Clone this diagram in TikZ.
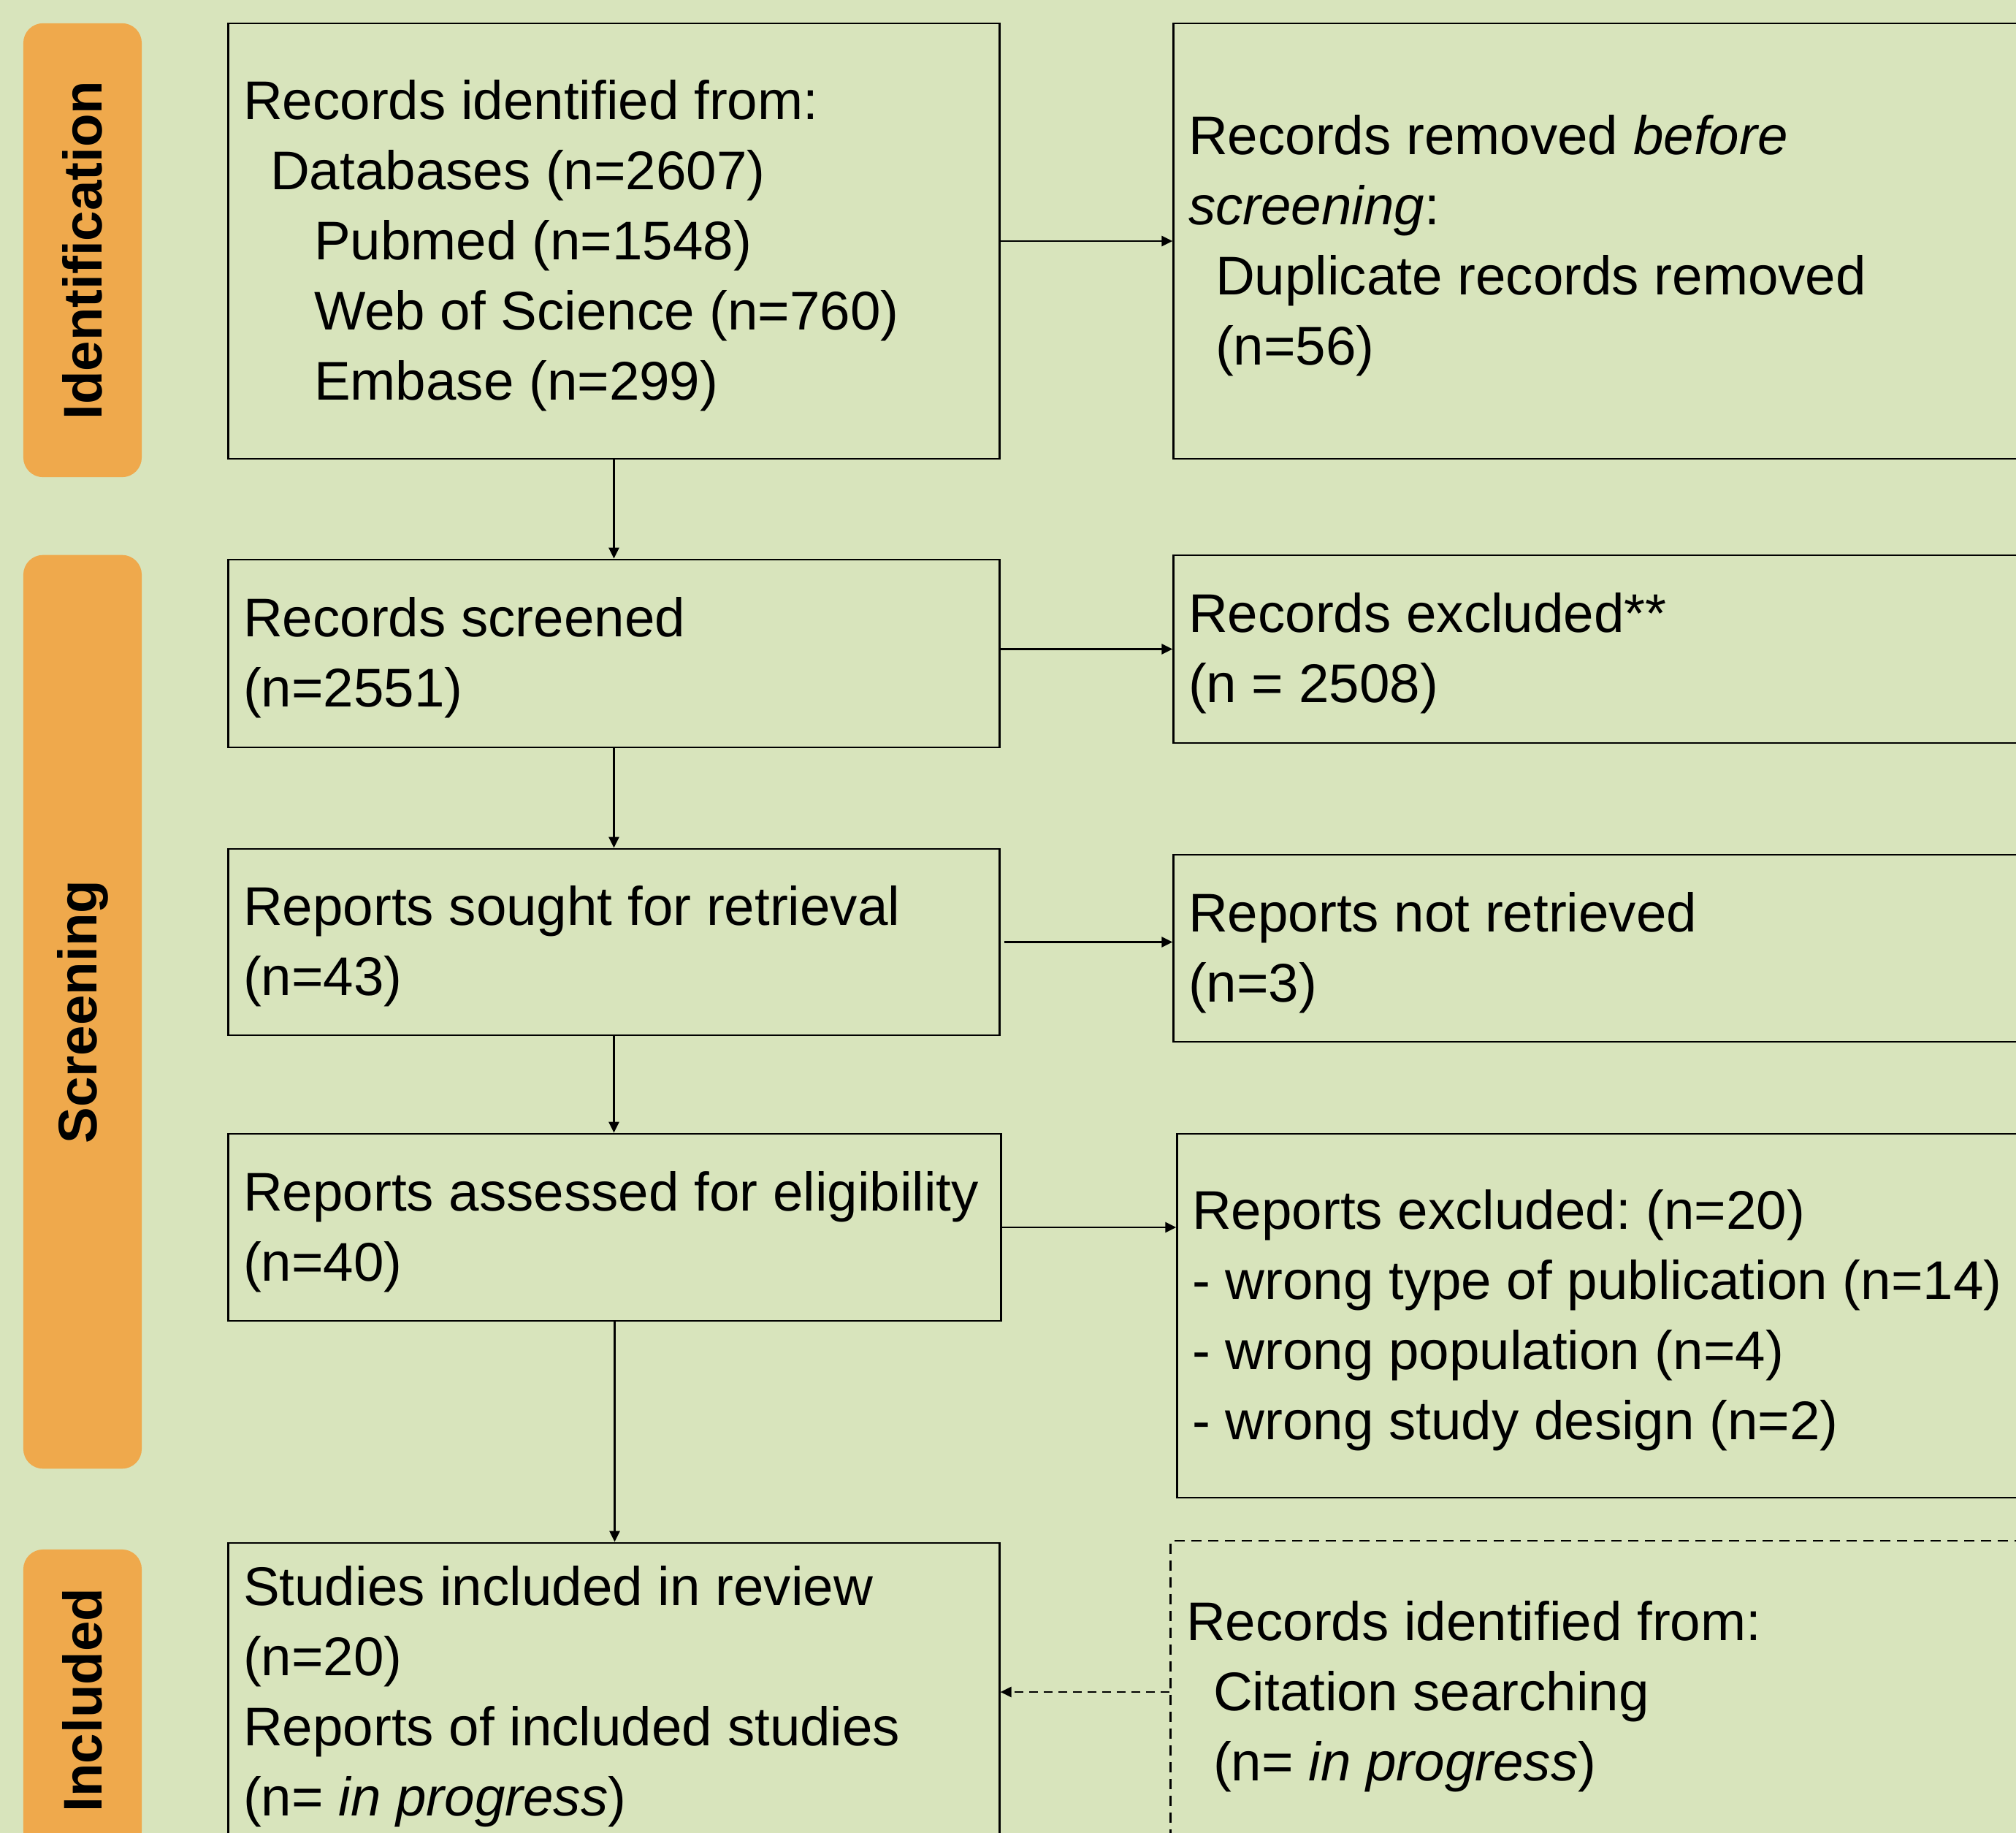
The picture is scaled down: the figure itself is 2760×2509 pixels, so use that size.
\documentclass[tikz,border=0pt]{standalone}
\usepackage{fontspec}
\setmainfont{Liberation Sans}
\usetikzlibrary{arrows.meta}
\definecolor{bggreen}{RGB}{216,228,188}
\definecolor{phaseorange}{RGB}{239,169,76}
\frenchspacing

\begin{document}
\begin{tikzpicture}[x=0.01cm, y=-0.01cm,
    box/.style={draw, line width=0.75pt, rectangle, inner sep=0pt},
    dashbox/.style={box, dash pattern=on 0.14cm off 0.09cm},
    txt/.style={anchor=west, align=left, inner sep=0pt, yshift=-0.06cm, font=\fontsize{21.2pt}{27.3pt}\selectfont},
    phase/.style={fill=phaseorange, rounded corners=0.27cm, rotate=90, minimum height=1.62cm,
        inner sep=0pt, font=\fontsize{21.2pt}{25pt}\selectfont\bfseries},
    arr/.style={line width=0.7pt, -{Triangle[length=0.15cm,width=0.14cm]}}]

    \useasboundingbox (0,0) rectangle (2760,2509);
    \fill[bggreen] (0,0) rectangle (2760,2509);

    % phase bars
    \node[phase, minimum width=6.21cm] (identbar) at (113,342.5) {Identification};
    \node[phase, minimum width=12.5cm] (screenbar) at (113,1385) {Screening};
    \node[phase, minimum width=4.12cm] (inclbar) at (113,2327) {Included};

    % left column
    \node[box, minimum width=10.55cm, minimum height=5.96cm] (identified) at (840.5,330) {};
    \node[txt] (identifiedtxt) at ([xshift=0.21cm]identified.west)
        {Records identified from:\\\hspace*{0.37cm}Databases (n=2607)\\\hspace*{0.97cm}Pubmed (n=1548)\\
         \hspace*{0.97cm}Web of Science (n=760)\\\hspace*{0.97cm}Embase (n=299)};
    \node[box, minimum width=10.55cm, minimum height=2.57cm] (screened) at (840.5,894.5) {};
    \node[txt] (screenedtxt) at ([xshift=0.21cm]screened.west) {Records screened\\(n=2551)};
    \node[box, minimum width=10.55cm, minimum height=2.55cm] (sought) at (840.5,1289.5) {};
    \node[txt] (soughttxt) at ([xshift=0.21cm]sought.west) {Reports sought for retrieval\\(n=43)};
    \node[box, minimum width=10.57cm, minimum height=2.56cm] (assessed) at (841.5,1680) {};
    \node[txt] (assessedtxt) at ([xshift=0.21cm]assessed.west) {Reports assessed for eligibility\\(n=40)};
    \node[box, minimum width=10.55cm, minimum height=4.08cm] (included) at (840.5,2316) {};
    \node[txt] (includedtxt) at ([xshift=0.21cm]included.west)
        {Studies included in review\\(n=20)\\Reports of included studies\\(n= \textit{in progress})};

    % right column
    \node[box, minimum width=12.13cm, minimum height=5.96cm] (removed) at (2213.5,330) {};
    \node[txt] (removedtxt) at ([xshift=0.21cm]removed.west)
        {Records removed \textit{before}\\\textit{screening}:\\\hspace*{0.37cm}Duplicate records removed\\\hspace*{0.37cm}(n=56)};
    \node[box, minimum width=12.13cm, minimum height=2.57cm] (excluded) at (2213.5,888.5) {};
    \node[txt] (excludedtxt) at ([xshift=0.21cm]excluded.west) {Records excluded**\\(n = 2508)};
    \node[box, minimum width=12.13cm, minimum height=2.56cm] (notretrieved) at (2213.5,1298) {};
    \node[txt] (notretrievedtxt) at ([xshift=0.21cm]notretrieved.west) {Reports not retrieved\\(n=3)};
    \node[box, minimum width=12.08cm, minimum height=4.98cm] (repexcluded) at (2216,1801) {};
    \node[txt] (repexcludedtxt) at ([xshift=0.21cm]repexcluded.west)
        {Reports excluded: (n=20)\\- wrong type of publication (n=14)\\- wrong population (n=4)\\- wrong study design (n=2)};
    \node[dashbox, minimum width=12.17cm, minimum height=4.14cm] (citation) at (2211.5,2316) {};
    \node[txt] (citationtxt) at ([xshift=0.22cm]citation.west)
        {Records identified from:\\\hspace*{0.37cm}Citation searching\\\hspace*{0.37cm}(n= \textit{in progress})};

    % connectors
    \draw[arr] (identified.south) -- (screened.north);
    \draw[arr] (screened.south) -- (sought.north);
    \draw[arr] (sought.south) -- (sought.south |- assessed.north);
    \draw[arr] (assessed.south) -- (assessed.south |- included.north);
    \draw[arr] (identified.east) -- (removed.west);
    \draw[arr] (screened.east |- excluded.west) -- (excluded.west);
    \draw[arr] ([xshift=0.05cm]sought.east) -- (sought.east -| notretrieved.west);
    \draw[arr] (assessed.east) -- (assessed.east -| repexcluded.west);
    \draw[arr, dash pattern=on 0.12cm off 0.08cm] (citation.west) -- (included.east);
\end{tikzpicture}
\end{document}
